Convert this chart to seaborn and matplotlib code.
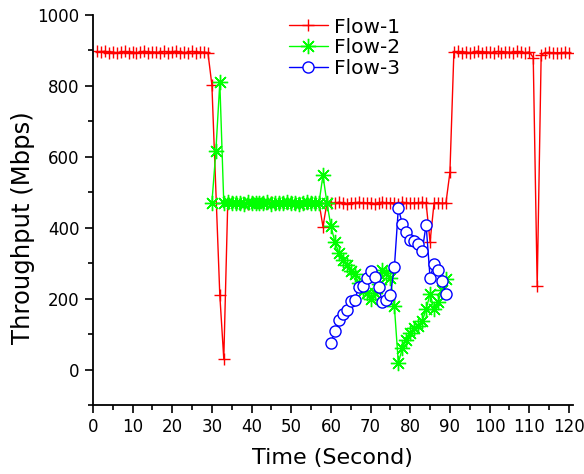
import matplotlib
matplotlib.use("Agg")
import matplotlib.pyplot as plt
from matplotlib.ticker import MultipleLocator
import seaborn as sns

# ---- Data ----
flow1_time = list(range(1, 31)) + list(range(32, 121))
flow1_mbps = ([897, 895, 898, 894, 896, 893, 895, 897, 894, 896,
               893, 895, 898, 894, 896, 895, 893, 897, 894, 896,
               898, 894, 895, 893, 897, 894, 896, 895, 894]
              + [803, 210, 30]
              + [470, 472, 469, 471, 470, 468, 472, 470, 471, 469, 470, 472,
                 468, 471, 470, 469, 472, 470, 471, 468, 470, 472, 469, 471]
              + [403]
              + [470, 471, 469, 472, 470, 468, 471, 470, 472, 469, 470, 471, 468,
                 470, 472, 469, 471, 470, 468, 472, 470, 469, 471, 470, 472, 469]
              + [360, 470, 471, 469, 470, 556]
              + [895, 897, 894, 896, 893, 895, 898, 894, 896, 895,
                 893, 897, 894, 896, 895, 894, 897, 895, 893, 896]
              + [880, 235]
              + [887, 893, 895, 892, 894, 893, 895, 892])

flow2_time = list(range(30, 90))
flow2_mbps = ([470, 615, 810]
              + [470, 472, 469, 471, 470, 468, 472, 470, 471, 469, 470, 472,
                 468, 471, 470, 469, 472, 470, 471, 468, 470, 472, 469, 471, 470]
              + [548, 470, 405, 360, 330, 310, 295, 278, 270, 245, 222, 215,
                 200, 215, 240, 280, 272, 258, 178, 18, 60, 84, 103, 117,
                 122, 136, 170, 214, 170, 190, 225, 255])

flow3_time = list(range(60, 90))
flow3_mbps = [75, 110, 141, 158, 169, 194, 195, 233, 235, 258,
              277, 261, 232, 190, 197, 211, 288, 455, 411, 388,
              366, 362, 354, 334, 408, 258, 299, 282, 249, 214]

sns.set_style("ticks")
plt.rcParams['font.family'] = ['DejaVu Sans']
plt.rcParams['text.color'] = 'black'
plt.rcParams['axes.labelcolor'] = 'black'

fig = plt.figure(figsize=(5.84, 4.74), dpi=100)
ax = fig.add_axes([0.159, 0.1456, 0.822, 0.8228])

sns.lineplot(x=flow1_time, y=flow1_mbps, ax=ax, color='#FF0000', lw=1,
             marker='+', markersize=9, markeredgewidth=1,
             markeredgecolor='#FF0000', estimator=None, label='Flow-1')
sns.lineplot(x=flow2_time, y=flow2_mbps, ax=ax, color='#00FF00', lw=1,
             marker=(8, 2, 0), markersize=11, markeredgewidth=1,
             markeredgecolor='#00FF00', estimator=None, label='Flow-2')
sns.lineplot(x=flow3_time, y=flow3_mbps, ax=ax, color='#0000FF', lw=1,
             marker='o', markersize=8, markeredgewidth=1,
             markeredgecolor='#0000FF', markerfacecolor='white',
             estimator=None, label='Flow-3')

ax.set_xlim(0, 121)
ax.set_ylim(-100, 1000)
ax.xaxis.set_major_locator(MultipleLocator(10))
ax.xaxis.set_minor_locator(MultipleLocator(5))
ax.yaxis.set_major_locator(MultipleLocator(200))
ax.yaxis.set_minor_locator(MultipleLocator(100))
ax.tick_params(which='major', direction='out', length=6, width=1.2,
               labelsize=12, color='black', labelcolor='black')
ax.tick_params(which='minor', direction='out', length=3.5, width=1.2,
               color='black')
for side in ['top', 'right']:
    ax.spines[side].set_visible(False)
for side in ['left', 'bottom']:
    ax.spines[side].set_linewidth(1.3)
    ax.spines[side].set_color('black')

ax.set_xlabel('Time (Second)', fontsize=16, labelpad=8.5)
ax.set_ylabel('Throughput (Mbps)', fontsize=17.5)
ax.yaxis.set_label_coords(-0.12, 0.455)

ax.legend(frameon=False, loc='upper left', bbox_to_anchor=(0.37, 1.04),
          fontsize=14.5, handlelength=1.95, handletextpad=0.3,
          labelspacing=0.08)

fig.savefig('out.png', dpi=100)
